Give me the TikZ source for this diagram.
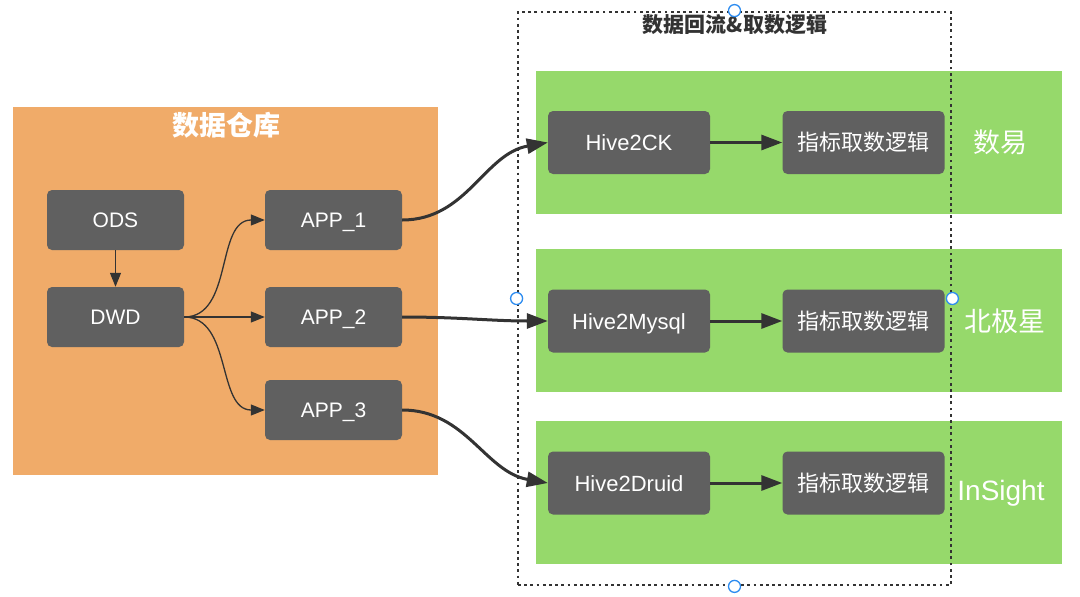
\documentclass[tikz,border=0pt]{standalone}
\usepackage{fontspec}
\setmainfont{Liberation Sans}
\newfontfamily\cjk{Noto Sans CJK SC}
\usetikzlibrary{arrows.meta}
\definecolor{dworange}{HTML}{F0AB69}
\definecolor{bandgreen}{HTML}{96D96B}
\definecolor{boxgray}{HTML}{606060}
\definecolor{arrowgray}{HTML}{333333}
\definecolor{handleblue}{HTML}{2D8CF0}

\begin{document}
\begin{tikzpicture}[x=1pt,y=-1pt,
  box/.style={fill=boxgray,rounded corners=5pt,text=white,inner sep=0pt,
    text height=15pt,text depth=0pt,
    minimum width=137pt,minimum height=60pt,font=\fontsize{21}{24}\selectfont},
  widebox/.style={box,minimum width=162pt,minimum height=63pt,
    text height=16pt,font=\fontsize{22}{24}\selectfont},
  band/.style={fill=bandgreen,inner sep=0pt,minimum width=526pt,minimum height=143pt},
  sidelabel/.style={text=white,font=\fontsize{27}{30}\selectfont},
  handle/.style={circle,draw=handleblue,fill=white,line width=1.3pt,inner sep=0pt,minimum size=12pt},
  thinarrow/.style={draw=arrowgray,line width=1.3pt,-{Triangle[length=14pt,width=11pt]}},
  thickarrow/.style={draw=arrowgray,line width=3pt,-{Triangle[length=21pt,width=15pt]}}]

  \useasboundingbox[fill=white] (0,0) rectangle (1080,597);

  % data warehouse
  \node[fill=dworange,inner sep=0pt,minimum width=425pt,minimum height=368pt] (dw) at (225.5,291) {};
  \node[text=white,font=\fontsize{27}{30}\selectfont\bfseries\cjk] (dwtitle) at (226,125) {数据仓库};

  % green bands
  \node[band] (band1) at (799,142.5) {};
  \node[band] (band2) at (799,320) {};
  \node[band] (band3) at (799,492.5) {};

  % dotted frame
  \node[draw=arrowgray,line width=2.8pt,dash pattern=on 2.8pt off 3.4pt,inner sep=0pt,
    minimum width=433pt,minimum height=573pt] (ret) at (734.5,298.5) {};
  \node[text=arrowgray,font=\fontsize{21}{24}\selectfont\bfseries\cjk] (rettitle) at (735,25) {数据回流\&取数逻辑};

  \node[box] (ods) at (115.5,220) {ODS};
  \node[box] (dwd) at (115.5,317) {DWD};
  \node[box] (app1) at (333.5,220) {APP\_1};
  \node[box] (app2) at (333.5,317) {APP\_2};
  \node[box] (app3) at (333.5,410) {APP\_3};

  \node[widebox] (ck) at (629,142.5) {Hive2CK};
  \node[widebox] (ckidx) at (863.5,142.5) {\cjk 指标取数逻辑};
  \node[widebox] (mysql) at (629,321) {Hive2Mysql};
  \node[widebox] (mysqlidx) at (863.5,321) {\cjk 指标取数逻辑};
  \node[widebox] (druid) at (629,483) {Hive2Druid};
  \node[widebox] (druididx) at (863.5,483) {\cjk 指标取数逻辑};

  \node[sidelabel] (shuyi) at (1000,142) {\cjk 数易};
  \node[sidelabel] (polaris) at (1005,321) {\cjk 北极星};
  \node[sidelabel,font=\fontsize{28}{30}\selectfont] (insight) at (1001,493) {InSight};

  \draw[thinarrow] (ods) -- (dwd);
  \draw[thinarrow] (dwd.east) to[out=0,in=180] (app1.west);
  \draw[thinarrow] (dwd.east) -- (app2.west);
  \draw[thinarrow] (dwd.east) to[out=0,in=180] (app3.west);

  \draw[thickarrow] (app1.east) to[out=0,in=190] (ck.west);
  \draw[thickarrow] (app2.east) to[out=0,in=180] (mysql.west);
  \draw[thickarrow] (app3.east) to[out=0,in=170] (druid.west);

  \draw[thickarrow] (ck) -- (ckidx);
  \draw[thickarrow] (mysql) -- (mysqlidx);
  \draw[thickarrow] (druid) -- (druididx);

  \foreach \a in {north,south,east,west}
    \node[handle] at (ret.\a) {};
\end{tikzpicture}
\end{document}
